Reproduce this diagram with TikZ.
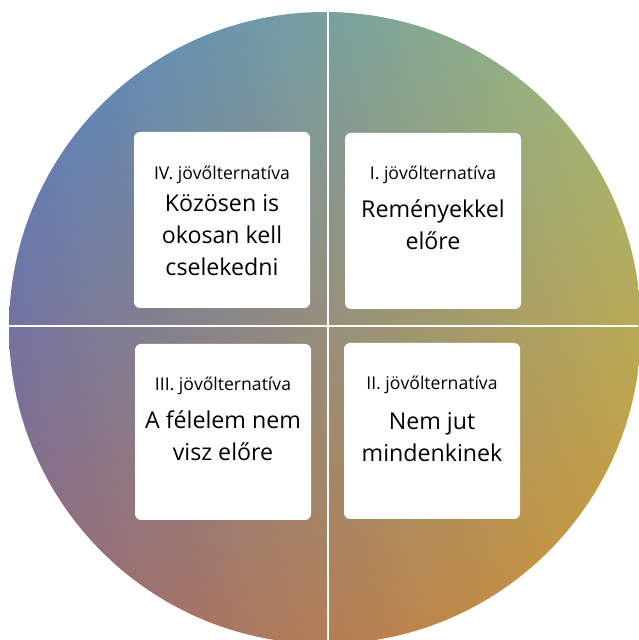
\documentclass[tikz,border=0pt]{standalone}
\usepackage{fontspec}
\setmainfont{Open Sans}
\usetikzlibrary{shadings}
\definecolor{ulc}{RGB}{80,130,200}
\definecolor{urc}{RGB}{160,190,120}
\definecolor{llc}{RGB}{150,100,120}
\definecolor{lrc}{RGB}{210,150,50}
\tikzset{
  card/.style={fill=white,rounded corners=6pt,minimum size=176pt,inner sep=0pt},
  tag/.style={font=\fontsize{17.6}{20}\selectfont,anchor=base,inner sep=0pt},
  motto/.style={font=\fontsize{23.2}{32}\selectfont,align=center,anchor=base,inner sep=0pt}
}
\begin{document}
\begin{tikzpicture}[x=1pt,y=1pt]
	\useasboundingbox (0,0) rectangle (638,640);
	\coordinate (O) at (325,312); \coordinate (T) at (328,640); \coordinate (B) at (328,0);
	\coordinate (L) at (0,314); \coordinate (R) at (638,314);
	\shade[upper left=ulc,upper right=urc,lower left=llc,lower right=lrc] (O) circle (316pt);
	\draw[white,line width=2pt] (T)--(B) (L)--(R);
	\foreach\n/\p in {IV/{222,420},I/{433,419},III/{223,208},II/{432,209}}
		\node[card] (\n) at (\p) {};
	% labels (motto anchored at its last baseline)
	\node[tag] (tIV) at ([yshift=-48pt]IV.north) {IV. jövőlternatíva};
	\node[motto] (mIV) at ([yshift=-144pt]IV.north) {Közösen is\\okosan kell\\cselekedni};
	\node[tag] (tI) at ([yshift=-47pt]I.north) {I. jövőlternatíva};
	\node[motto] (mI) at ([yshift=-117pt]I.north) {Reményekkel\\előre};
	\node[tag] (tIII) at ([yshift=-47pt]III.north) {III. jövőlternatíva};
	\node[motto] (mIII) at ([yshift=-117pt]III.north) {A félelem nem\\visz előre};
	\node[tag] (tII) at ([yshift=-47pt]II.north) {II. jövőlternatíva};
	\node[motto] (mII) at ([yshift=-119pt]II.north) {Nem jut\\mindenkinek};
\end{tikzpicture}
\end{document}
